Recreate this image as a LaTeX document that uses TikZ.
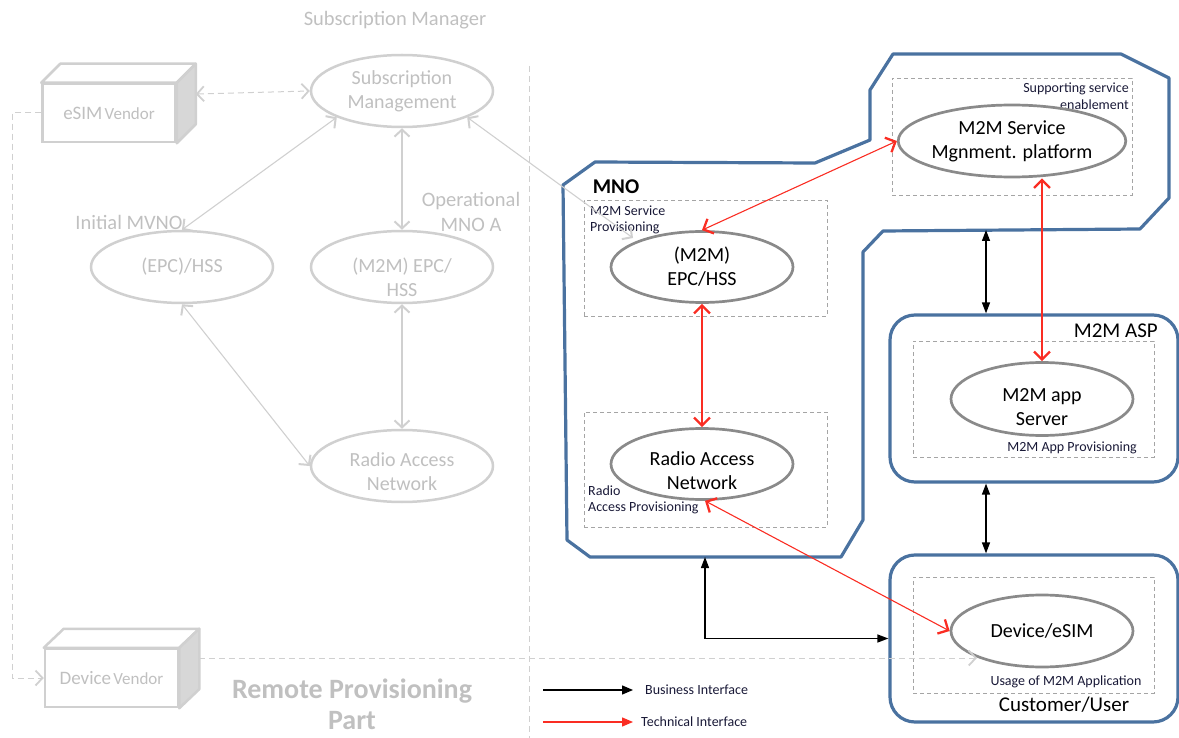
\documentclass[tikz,border=0pt]{standalone}
\usepackage{fontspec}
\setmainfont{Carlito}
\usetikzlibrary{arrows.meta,shapes.geometric}
\definecolor{blueb}{RGB}{74,114,160}
\definecolor{egray}{RGB}{138,138,138}
\definecolor{lgline}{RGB}{208,208,208}
\definecolor{ltext}{RGB}{192,192,192}
\definecolor{dgray}{RGB}{165,165,165}
\definecolor{sidegray}{RGB}{215,215,215}
\definecolor{navytext}{RGB}{25,25,55}
\definecolor{redc}{RGB}{250,45,35}
\newcommand\lowtxt[2]{\raisebox{-#1}[0pt][0pt]{\begin{tabular}{@{}c@{}}#2\end{tabular}}}
\begin{document}
\begin{tikzpicture}[x=1pt,y=-1pt,
  gell/.style={ellipse, draw=lgline, line width=2.5pt, fill=white, minimum width=182pt, minimum height=72pt, inner sep=0pt, align=center, text=ltext, font=\fontsize{20}{24}\selectfont},
  rell/.style={ellipse, draw=egray, line width=2.7pt, fill=white, minimum width=182pt, minimum height=71pt, inner sep=0pt, align=center, font=\fontsize{20}{24}\selectfont},
  vbox/.style={draw=lgline, line width=2.5pt, fill=white, minimum width=133pt, minimum height=58pt, inner sep=0pt, text=ltext},
  face/.style={draw=lgline, line width=2.5pt, fill=white, line join=round},
  dbox/.style={draw=dgray, dash pattern=on 4pt off 3pt, line width=0.8pt, inner sep=0pt},
  bbox/.style={draw=blueb, line width=3.2pt, rounded corners=25pt, inner sep=0pt, minimum width=288pt, minimum height=167pt},
  small/.style={font=\fontsize{14}{16.5}\selectfont, text=navytext, inner sep=0pt},
  big/.style={font=\fontsize{21}{25}\selectfont, inner sep=0pt},
  gtext/.style={text=ltext, font=\fontsize{20.5}{25}\selectfont, inner sep=0pt, align=center},
  lgdash/.style={draw=lgline, line width=1pt, dash pattern=on 6pt off 4pt},
  gcon/.style={draw=lgline, line width=1.1pt, >={Straight Barb[length=7pt,width=15pt,line width=2pt]}, <->},
  tech/.style={draw=redc, line width=1.1pt, >={Straight Barb[length=8pt,width=16pt,line width=2.3pt]}, <->},
  biz/.style={draw=black, line width=1.3pt, >={Triangle[length=11pt,width=8pt]}, <->},
  legarrow/.style={line width=1.3pt, -{Triangle[length=11pt,width=9pt]}}
]
\useasboundingbox (0,0) rectangle (1179,738);

% divider
\coordinate (dvt) at (529,66);
\coordinate (dvb) at (529,738);
\draw[lgdash] (dvt) -- (dvb);

% left headings
\node[gtext] (hsm) at (395,20) {Subscription Manager};
\node[gtext] (hmvno) at (129,222) {Initial MVNO};
\node[gtext] (hopm) at (471,212) {Operational\\MNO A};
\node[gtext, font=\fontsize{28}{31}\selectfont\bfseries] (hrp) at (352,704) {Remote Provisioning\\Part};

% left ellipses
\node[gell] (sm) at (402,91) {Subscription\\Management};
\node[gell] (iepc) at (182,267) {(EPC)/HSS};
\node[gell] (mepc) at (402,267) {\lowtxt{18pt}{(M2M) EPC/\\HSS}};
\node[gell] (gran) at (402,466) {\lowtxt{13pt}{Radio Access\\Network}};

% vendor boxes
\node[vbox] (esv) at (109,113) {{\fontsize{19}{22}\selectfont eSIM} {\fontsize{17}{20}\selectfont Vendor}};
\draw[face] (esv.north west) -- ([shift={(19,-19)}]esv.north west) -- ([shift={(19,-19)}]esv.north east) -- (esv.north east) -- cycle;
\draw[face, fill=sidegray] (esv.north east) -- ([shift={(19,-19)}]esv.north east) -- ([shift={(19,-19)}]esv.south east) -- (esv.south east) -- cycle;

\node[vbox] (dv) at (111.5,678) {{\fontsize{19}{22}\selectfont Device} {\fontsize{17}{20}\selectfont Vendor}};
\draw[face] (dv.north west) -- ([shift={(20,-19)}]dv.north west) -- ([shift={(20,-19)}]dv.north east) -- (dv.north east) -- cycle;
\draw[face, fill=sidegray] (dv.north east) -- ([shift={(20,-19)}]dv.north east) -- ([shift={(20,-19)}]dv.south east) -- (dv.south east) -- cycle;

% left connectors
\coordinate (lc) at (12,113);
\draw[lgdash, >={Straight Barb[length=7pt,width=15pt,line width=1.8pt]}, ->] (esv.west) -- (lc) |- (dv.west);
\draw[lgdash, >={Straight Barb[length=7pt,width=15pt,line width=1.8pt]}, <->] ([shift={(19,-19)}]esv.east) -- (sm.west);
\draw[gcon] (sm.south west) -- (iepc.north);
\draw[gcon] (sm.south) -- (mepc.north);
\draw[gcon] (mepc.south) -- (gran.north);
\draw[gcon] (iepc.south) -- (gran.west);

% MNO outline
\draw[blueb, line width=3.2pt, line join=round] (563,185) -- (595,162) -- (815,163) -- (870,140) -- (870,90) -- (893,54) -- (1121,54) -- (1169,78) -- (1169,198) -- (1140,229) -- (883,231) -- (863,252) -- (863,520) -- (841,557) -- (590,557) -- (567,540) -- cycle;
\node[big, font=\fontsize{21}{25}\selectfont\bfseries] (lmno) at (616,187) {MNO};

% M2M ASP and Customer boxes
\node[bbox] (asp) at (1034,398.5) {};
\node[bbox] (cust) at (1034,638.5) {};
\node[big, anchor=east] (lasp) at (1158,331) {M2M ASP};
\node[big] (lcu) at (1064,705) {Customer/User};

% dashed boxes
\node[dbox, minimum width=243pt, minimum height=116pt] (b1) at (705.5,258) {};
\node[dbox, minimum width=243pt, minimum height=115pt] (b2) at (705.5,469.5) {};
\node[dbox, minimum width=240pt, minimum height=117pt] (b3) at (1012,136.5) {};
\node[dbox, minimum width=241pt, minimum height=116pt] (b4) at (1033.5,399) {};
\node[dbox, minimum width=241pt, minimum height=116pt] (b5) at (1033.5,635) {};

% small labels
\node[small, anchor=west, align=left] (lsp) at (590,220) {M2M Service\\Provisioning};
\node[small, anchor=east, align=right] (lsse) at (1129,96) {Supporting service\\enablement};
\node[small, anchor=west, align=left] (lrap) at (588,500) {Radio\\Access Provisioning};
\node[small, anchor=east] (lapp) at (1137,448) {M2M App Provisioning};
\node[small] (luse) at (1066,682) {Usage of M2M Application};

% right ellipses
\node[rell] (rmepc) at (702,267) {(M2M)\\EPC/HSS};
\node[rell] (rran) at (702,464) {\lowtxt{14pt}{Radio Access\\Network}};
\node[rell, minimum height=72pt] (msp) at (1012,141) {M2M Service\\Mgnment. platform};
\node[rell, minimum height=73pt] (app) at (1042,399) {\lowtxt{15pt}{M2M app\\Server}};
\node[rell, minimum height=72pt] (dev) at (1042,631) {Device/eSIM};

% gray connectors into the right part
\coordinate (smx) at (633,238);
\draw[gcon] (sm.south east) -- (smx);
\coordinate (devin) at (977,658);
\draw[lgdash, >={Straight Barb[length=7pt,width=15pt,line width=1.8pt]}, ->] ([shift={(20,-20)}]dv.east) -- (devin);

% technical interfaces
\draw[tech] (rmepc.north) -- (msp.west);
\draw[tech] (rmepc.south) -- (rran.north);
\draw[tech] ([xshift=3pt]rran.south) -- (dev.west);
\draw[tech] (app.north |- msp.south) -- (app.north);

% business interfaces
\coordinate (mnoj) at (986,230);
\draw[biz] (mnoj) -- (mnoj |- asp.north);
\draw[biz] (mnoj |- asp.south) -- (mnoj |- cust.north);
\coordinate (mnob) at (705,557);
\draw[biz] (mnob) |- (cust.west);

% legend
\coordinate (l1a) at (543,690);
\coordinate (l1b) at (633,690);
\coordinate (l2a) at (543,722);
\coordinate (l2b) at (633,722);
\draw[legarrow] (l1a) -- (l1b);
\draw[legarrow, draw=redc, fill=redc] (l2a) -- (l2b);
\node[small, anchor=west] (l1t) at (645,690) {Business Interface};
\node[small, anchor=west] (l2t) at (641,722) {Technical Interface};
\end{tikzpicture}
\end{document}
